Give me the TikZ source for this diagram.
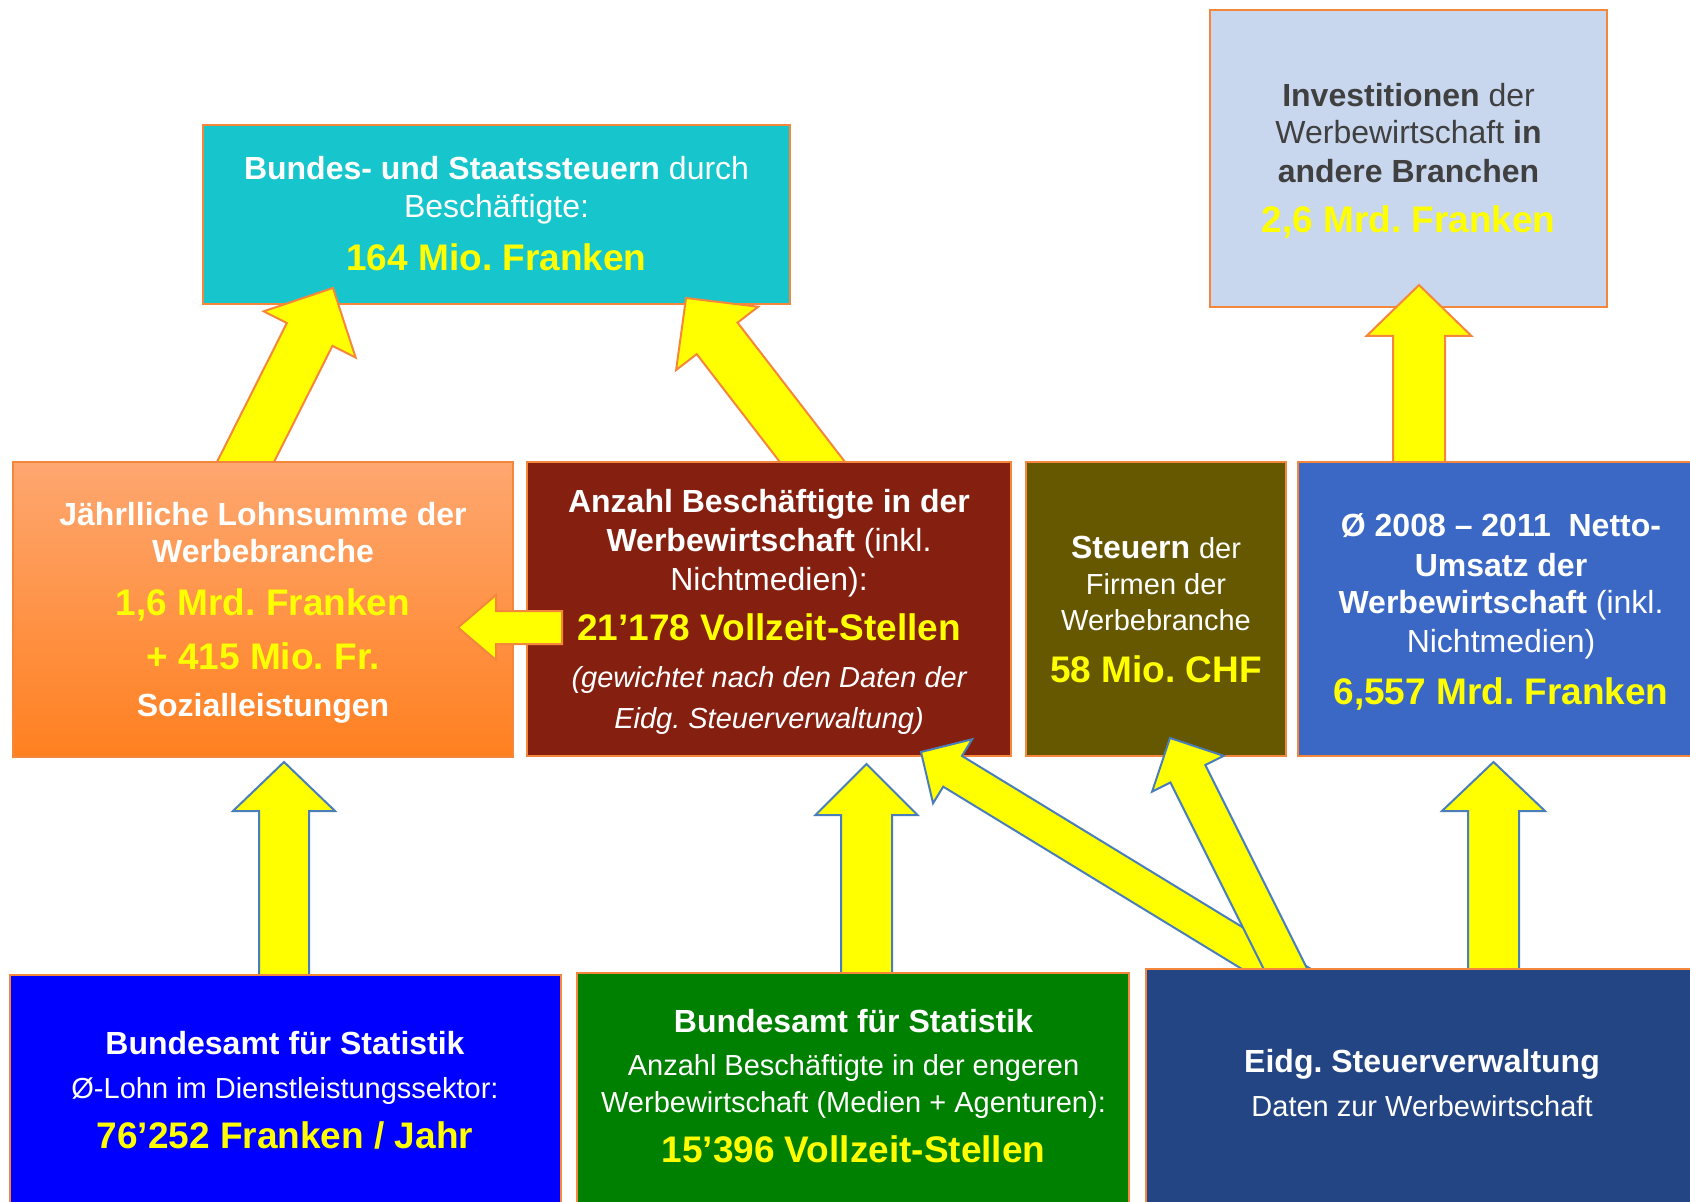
\documentclass[tikz,border=0pt]{standalone}
\usepackage{fontspec}
\setmainfont{Liberation Sans}
\usetikzlibrary{calc}
\frenchspacing
\definecolor{cyanbox}{RGB}{22,198,204}
\definecolor{invbox}{RGB}{200,214,238}
\definecolor{orangetop}{RGB}{254,167,112}
\definecolor{orangebot}{RGB}{255,128,32}
\definecolor{redbox}{RGB}{133,32,17}
\definecolor{olivebox}{RGB}{102,88,0}
\definecolor{bluebox}{RGB}{58,104,196}
\definecolor{bfsblue}{RGB}{0,0,255}
\definecolor{greenbox}{RGB}{0,128,0}
\definecolor{navybox}{RGB}{35,69,132}
\definecolor{boxborder}{RGB}{245,135,60}
\definecolor{arrblue}{RGB}{74,126,187}
\definecolor{textgray}{RGB}{64,64,64}
\definecolor{yel}{RGB}{255,255,0}
\tikzset{
  box/.style={draw=boxborder,line width=1pt,rectangle,inner sep=0pt},
  txt/.style={anchor=base,text=white,inner sep=0pt,font=\fontsize{16}{19}\selectfont},
  smtxt/.style={anchor=base,text=white,inner sep=0pt,font=\fontsize{14.5}{17}\selectfont},
  bigy/.style={anchor=base,text=yel,inner sep=0pt,font=\fontsize{18.5}{22}\selectfont\bfseries},
  arrO/.style={fill=yel,draw=boxborder,line width=1pt,line join=miter},
  arrB/.style={fill=yel,draw=arrblue,line width=1pt,line join=miter}
}
\newcommand\mkbox[6]{\node[box,#2,minimum width={(#5-#3)*0.5pt},minimum height={(#6-#4)*0.5pt}] (#1) at ({(#3+#5)/2},{(#4+#6)/2}) {};}
\newcommand\blockarr[6]{%
  \coordinate (hb) at ($(#3)!#6!(#2)$);
  \draw[#1] ($(#2)!#4!90:(#3)$) -- ($(hb)!#4!90:(#3)$) -- ($(hb)!#5!90:(#3)$) -- (#3)
    -- ($(hb)!#5!-90:(#3)$) -- ($(hb)!#4!-90:(#3)$) -- ($(#2)!#4!-90:(#3)$) -- cycle;
}
\begin{document}
\frenchspacing
\begin{tikzpicture}[x=0.5pt,y=-0.5pt]
\useasboundingbox (0,0) rectangle (1690,1202);
\clip (0,0) rectangle (1690,1202);
\fill[white] (0,0) rectangle (1690,1202);
% top boxes
\mkbox{cyan}{fill=cyanbox}{203}{125}{790}{304}
\mkbox{inv}{fill=invbox}{1210}{10}{1607}{307}
\node[txt] (cyanA) at (496.5,180) {\textbf{Bundes- und Staatssteuern} durch};
\node[txt] (cyanB) at (496.5,218) {Beschäftigte:};
\node[bigy] (cyanC) at (496.5,271) {164 Mio. Franken};
\node[txt,text=textgray] (invA) at (1408.5,107) {\textbf{Investitionen} der};
\node[txt,text=textgray] (invB) at (1408.5,144) {Werbewirtschaft \textbf{in}};
\node[txt,text=textgray] (invC) at (1408.5,183) {\textbf{andere Branchen}};
\node[bigy] (invD) at (1408.5,233) {2,6 Mrd. Franken};
% arrows into top boxes
\coordinate (eTail) at (234.3,484.3); \coordinate (eTip) at (333,288);
\coordinate (fTail) at (830.8,485.8); \coordinate (fTip) at (686,298);
\coordinate (dTail) at (1419,480);    \coordinate (dTip) at (1419,285);
\blockarr{arrO}{eTail}{eTip}{12.75pt}{25.75pt}{26pt}
\blockarr{arrO}{fTail}{fTip}{12.9pt}{25.9pt}{25.5pt}
\blockarr{arrO}{dTail}{dTip}{13pt}{26.25pt}{25.5pt}
% middle boxes
\mkbox{lohn}{top color=orangetop,bottom color=orangebot}{13}{462}{513}{757}
\mkbox{anz}{fill=redbox}{527}{462}{1011}{756}
\mkbox{steu}{fill=olivebox}{1026}{462}{1286}{756}
\mkbox{ums}{fill=bluebox}{1298}{462}{1704}{756}
\node[txt] (lohnA) at (263,526) {\textbf{Jährlliche Lohnsumme der}};
\node[txt] (lohnB) at (263,563) {\textbf{Werbebranche}};
\node[bigy] (lohnC) at (263,616) {1,6 Mrd. Franken};
\node[bigy] (lohnD) at (263,669) {+ 415 Mio. Fr.};
\node[txt] (lohnE) at (263,716) {\textbf{Sozialleistungen}};
\node[txt] (anzA) at (769,513) {\textbf{Anzahl Beschäftigte in der}};
\node[txt] (anzB) at (769,552) {\textbf{Werbewirtschaft} (inkl.};
\node[txt] (anzC) at (769,590) {Nichtmedien):};
\node[bigy] (anzD) at (769,640) {21’178 Vollzeit-Stellen};
\node[smtxt,font=\fontsize{14.5}{17}\selectfont\itshape] (anzE) at (769,687) {(gewichtet nach den Daten der};
\node[smtxt,font=\fontsize{14.5}{17}\selectfont\itshape] (anzF) at (769,728) {Eidg. Steuerverwaltung)};
\node[txt] (steuA) at (1156,559) {\textbf{Steuern} {\fontsize{14.5}{17}\selectfont der}};
\node[smtxt] (steuB) at (1156,595) {Firmen der};
\node[smtxt] (steuC) at (1156,631) {Werbebranche};
\node[bigy] (steuD) at (1156,682) {58 Mio. CHF};
\node[txt] (umsA) at (1501,537) {\textbf{Ø 2008 – 2011\ \ Netto-}};
\node[txt] (umsB) at (1501,576) {\textbf{Umsatz der}};
\node[txt] (umsC) at (1501,613) {\textbf{Werbewirtschaft} (inkl.};
\node[txt] (umsD) at (1501,652) {Nichtmedien)};
\node[bigy] (umsE) at (1501,704) {6,557 Mrd. Franken};
% arrow red -> orange
\coordinate (gTail) at (562,627.5); \coordinate (gTip) at (458,627.5);
\blockarr{arrO}{gTail}{gTip}{8.25pt}{16.25pt}{19pt}
% arrows from bottom boxes
\coordinate (hTail) at (284,990);    \coordinate (hTip) at (284,762);
\coordinate (iTail) at (866.5,990);  \coordinate (iTip) at (866.5,764);
\coordinate (cTail) at (1493.5,990); \coordinate (cTip) at (1493.5,762);
\coordinate (aTail) at (1310,989.5); \coordinate (aTip) at (921,752);
\coordinate (bTail) at (1300,998);   \coordinate (bTip) at (1170,738);
\blockarr{arrB}{hTail}{hTip}{12.5pt}{25.5pt}{24.5pt}
\blockarr{arrB}{iTail}{iTip}{12.75pt}{25.5pt}{25.5pt}
\blockarr{arrB}{cTail}{cTip}{12.75pt}{25.75pt}{24.5pt}
\blockarr{arrB}{aTail}{aTip}{9pt}{18.75pt}{18.5pt}
\blockarr{arrB}{bTail}{bTip}{9.75pt}{20pt}{20pt}
% bottom boxes
\mkbox{bfsA}{fill=bfsblue}{10}{975}{561}{1215}
\mkbox{bfsB}{fill=greenbox}{577}{973}{1129}{1215}
\mkbox{estv}{fill=navybox}{1146}{969}{1700}{1215}
\node[txt] (bfsAa) at (285,1054) {\textbf{Bundesamt für Statistik}};
\node[smtxt] (bfsAb) at (285,1098) {Ø-Lohn im Dienstleistungssektor:};
\node[bigy] (bfsAc) at (285,1148) {76’252 Franken / Jahr};
\node[txt] (bfsBa) at (853.5,1032) {\textbf{Bundesamt für Statistik}};
\node[smtxt] (bfsBb) at (853.5,1075) {Anzahl Beschäftigte in der engeren};
\node[smtxt] (bfsBc) at (853.5,1112) {Werbewirtschaft (Medien + Agenturen):};
\node[bigy] (bfsBd) at (853.5,1162) {15’396 Vollzeit-Stellen};
\node[txt] (estvA) at (1422,1072) {\textbf{Eidg. Steuerverwaltung}};
\node[smtxt] (estvB) at (1422,1116) {Daten zur Werbewirtschaft};
\end{tikzpicture}
\end{document}
